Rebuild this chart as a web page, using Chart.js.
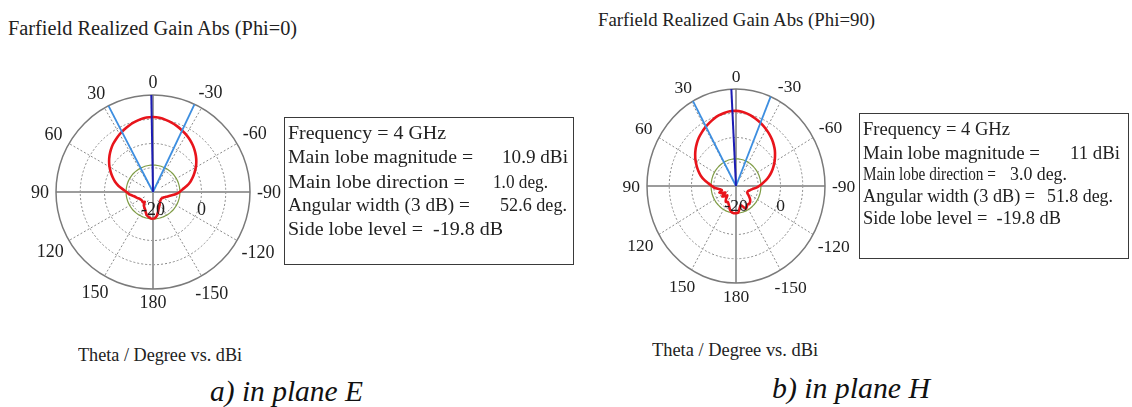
<!DOCTYPE html>
<html>
<head>
<meta charset="utf-8">
<script src="https://cdn.jsdelivr.net/npm/chart.js@4.4.0/dist/chart.umd.min.js"></script>
<style>
  body { margin: 0; width: 1132px; height: 407px; background: #fff; position: relative; overflow: hidden;
         font-family: "Liberation Serif", "Times New Roman", serif; color: #222; }
  .t { position: absolute; white-space: pre; transform-origin: 0 50%; }
  .box { position: absolute; border: 1.5px solid #3a3a3a; box-sizing: border-box; }
  .box .t { left: 3px; }
  canvas { position: absolute; }
</style>
</head>
<body>
<div class="t" data-w="289" style="left:8px;top:16px;font-size:20px;line-height:24px;">Farfield Realized Gain Abs (Phi=0)</div>
<div class="t" data-w="277" style="left:598px;top:9px;font-size:19.5px;line-height:22px;">Farfield Realized Gain Abs (Phi=90)</div>

<canvas id="planeE" width="274" height="274" style="left:16px;top:55px;"></canvas>
<canvas id="planeH" width="258" height="274" style="left:607px;top:49px;"></canvas>

<div class="box" style="left:284px;top:117px;width:290px;height:148px;font-size:19.5px;">
  <div class="t" data-w="158" style="top:3px;line-height:24px;">Frequency = 4 GHz</div>
  <div class="t" data-w="185" style="top:27px;line-height:24px;">Main lobe magnitude =</div>
  <div class="t" data-w="66" style="top:27px;left:217px;line-height:24px;">10.9 dBi</div>
  <div class="t" data-w="177" style="top:52px;line-height:24px;">Main lobe direction =</div>
  <div class="t" data-w="55" style="top:52px;left:208px;line-height:24px;">1.0 deg.</div>
  <div class="t" data-w="182" style="top:75px;line-height:24px;">Angular width (3 dB) =</div>
  <div class="t" data-w="67" style="top:75px;left:215px;line-height:24px;">52.6 deg.</div>
  <div class="t" data-w="215" style="top:99px;line-height:24px;">Side lobe level =  -19.8 dB</div>
</div>

<div class="box" style="left:859px;top:113px;width:270px;height:146px;font-size:19px;">
  <div class="t" data-w="147" style="top:4px;line-height:22px;">Frequency = 4 GHz</div>
  <div class="t" data-w="177" style="top:28px;line-height:22px;">Main lobe magnitude =</div>
  <div class="t" data-w="50" style="top:28px;left:210px;line-height:22px;">11 dBi</div>
  <div class="t" data-w="133" style="top:49px;line-height:22px;">Main lobe direction =</div>
  <div class="t" data-w="57" style="top:49px;left:150px;line-height:22px;">3.0 deg.</div>
  <div class="t" data-w="172" style="top:71px;line-height:22px;">Angular width (3 dB) =</div>
  <div class="t" data-w="66" style="top:71px;left:187px;line-height:22px;">51.8 deg.</div>
  <div class="t" data-w="198" style="top:93px;line-height:22px;">Side lobe level =  -19.8 dB</div>
</div>

<div class="t" data-w="164" style="left:78px;top:344px;font-size:18px;line-height:22px;">Theta / Degree vs. dBi</div>
<div class="t" data-w="166" style="left:652px;top:339px;font-size:18px;line-height:22px;">Theta / Degree vs. dBi</div>
<div class="t" data-w="153" style="left:210px;top:375px;font-size:29px;line-height:32px;font-style:italic;color:#111;">a) in plane E</div>
<div class="t" data-w="158" style="left:772px;top:372px;font-size:29px;line-height:32px;font-style:italic;color:#111;">b) in plane H</div>

<script>
// theta in degrees, positive to the left (CST convention of the plot)
const thetaDeg = [
  -180, -175, -170, -165, -160, -155, -150, -145, -140, -135, -130, -125,
  -120, -115, -110, -105, -100, -95, -90, -85, -80, -75, -70, -65,
  -60, -55, -50, -45, -40, -35, -30, -25, -20, -15, -10, -5,
  0, 5, 10, 15, 20, 25, 30, 35, 40, 45, 50, 55,
  60, 65, 70, 75, 80, 85, 90, 95, 100, 105, 110, 115,
  120, 125, 130, 135, 140, 145, 150, 155, 160, 165, 170, 175, 180
];

// realized gain (dBi), Phi = 0
const gainE = [
  -8.9, -9.3, -10.3, -11.8, -13.0, -13.8, -14.4, -14.9, -15.3, -15.5, -15.6, -15.5,
  -15.3, -14.9, -14.2, -13.4, -12.2, -10.5, -9.0, -7.8, -5.9, -4.1, -2.6, -1.1,
  0.4, 1.8, 3.1, 4.3, 5.4, 6.4, 7.3, 8.1, 8.9, 9.6, 10.2, 10.7,
  10.9, 10.8, 10.4, 9.8, 9.1, 8.3, 7.5, 6.6, 5.7, 4.6, 3.4, 2.1,
  0.7, -0.8, -2.3, -3.8, -5.6, -7.6, -9.1, -10.1, -11.4, -12.4, -13.0, -13.6,
  -14.0, -14.2, -14.2, -14.0, -14.7, -13.4, -12.8, -12.2, -11.2, -10.1, -9.5, -9.1, -8.9
];

// realized gain (dBi), Phi = 90
const gainH = [
  -8.8, -8.9, -10.6, -11.8, -11.0, -9.6, -10.2, -10.8, -10.6, -11.0, -11.8, -13.0,
  -14.1, -14.3, -14.1, -13.4, -12.6, -11.0, -9.6, -8.1, -6.3, -4.6, -3.0, -1.5,
  0.0, 1.4, 2.8, 4.0, 5.1, 6.1, 7.0, 7.9, 8.7, 9.5, 10.2, 10.7,
  10.98, 10.95, 10.6, 10.1, 9.4, 8.6, 7.8, 6.9, 6.0, 4.9, 3.7, 2.4,
  1.0, -0.5, -2.0, -3.6, -5.5, -7.6, -9.2, -10.5, -12.5, -13.5, -12.0, -13.0,
  -14.5, -12.5, -13.5, -14.5, -13.0, -12.0, -12.5, -12.0, -11.0, -9.8, -9.0, -8.7, -8.8
];

// summary values shown in the boxes
const mainLobeE = { mag: 10.9, dir: 1.0, width: 52.6, sll: -19.8 };
const mainLobeH = { mag: 11.0, dir: 3.0, width: 51.8, sll: -19.8 };

// radial axis
const rMin = -20;
const rMax = 20;
const ringValues = [-10, 0, 10];
const ringLabels = [-20, 0];
const angleTicks = [0, 30, 60, 90, 120, 150, 180, -150, -120, -90, -60, -30];
const dottedSpokes = [30, 60, 120, 150, -30, -60, -120, -150];
const solidSpokes = [0, 90, 180, -90];

const SPAN = rMax - rMin;
const rad = d => d * Math.PI / 180;

function toXY(theta, g) {
  const r = Math.max(0, g - rMin);
  return { x: -r * Math.sin(rad(theta)), y: r * Math.cos(rad(theta)) };
}

const polarGrid = {
  id: 'polarGrid',
  beforeDatasetsDraw(chart) {
    const { ctx, scales: { x, y } } = chart;
    const cx = x.getPixelForValue(0), cy = y.getPixelForValue(0);
    const rx = x.getPixelForValue(SPAN) - cx, ry = cy - y.getPixelForValue(SPAN);
    const fx = rx / SPAN, fy = ry / SPAN;
    ctx.save();
    // dotted rings
    ctx.strokeStyle = '#8a8a8a';
    ctx.lineWidth = 1;
    ctx.setLineDash([2, 2]);
    ringValues.forEach(v => {
      const r = v - rMin;
      ctx.beginPath();
      ctx.ellipse(cx, cy, r * fx, r * fy, 0, 0, Math.PI * 2);
      ctx.stroke();
    });
    // dotted spokes
    const r1 = ringValues[0] - rMin;
    dottedSpokes.forEach(a => {
      const s = -Math.sin(rad(a)), c = -Math.cos(rad(a));
      ctx.beginPath();
      ctx.moveTo(cx + s * r1 * fx * 0.4, cy + c * r1 * fy * 0.4);
      ctx.lineTo(cx + s * rx, cy + c * ry);
      ctx.stroke();
    });
    ctx.setLineDash([]);
    // solid axes
    ctx.strokeStyle = '#9c9c9c';
    ctx.lineWidth = 2;
    solidSpokes.forEach(a => {
      const s = -Math.sin(rad(a)), c = -Math.cos(rad(a));
      ctx.beginPath();
      ctx.moveTo(cx, cy);
      ctx.lineTo(cx + s * rx, cy + c * ry);
      ctx.stroke();
    });
    // outer circle
    ctx.strokeStyle = '#7a7a7a';
    ctx.lineWidth = 1.5;
    ctx.beginPath();
    ctx.ellipse(cx, cy, rx, ry, 0, 0, Math.PI * 2);
    ctx.stroke();
    ctx.restore();
  },
  afterDraw(chart, args, opts) {
    const { ctx, scales: { x, y } } = chart;
    const cx = x.getPixelForValue(0), cy = y.getPixelForValue(0);
    const rx = x.getPixelForValue(SPAN) - cx, ry = cy - y.getPixelForValue(SPAN);
    ctx.save();
    ctx.fillStyle = '#1e1e1e';
    ctx.font = opts.font;
    ctx.textAlign = 'center';
    ctx.textBaseline = 'middle';
    angleTicks.forEach(a => {
      const txt = String(a);
      const w = ctx.measureText(txt).width;
      const s = -Math.sin(rad(a)), c = -Math.cos(rad(a));
      const d = 7 + Math.abs(s) * w / 2 + Math.abs(c) * 6;
      ctx.fillText(txt, cx + s * (rx + d), cy + c * (ry + d) + 1);
    });
    ringLabels.forEach(v => {
      const r = (v - rMin) / SPAN;
      ctx.fillText(String(v), cx + r * rx, cy + opts.ringDy);
    });
    ctx.restore();
  }
};

function makeChart(id, gain, lobe, labelFont, ringDy) {
  const pattern = thetaDeg.map((t, i) => toXY(t, gain[i]));
  const sllCircle = thetaDeg.map(t => toXY(t, lobe.mag + lobe.sll));
  const ray = a => [toXY(a, rMin), toXY(a, rMax)];

  new Chart(document.getElementById(id), {
    type: 'scatter',
    data: {
      datasets: [
        {
          data: ray(lobe.dir),
          showLine: true,
          borderColor: '#1c1cb4',
          borderWidth: 2,
          pointRadius: 0
        },
        {
          data: ray(lobe.dir + lobe.width / 2),
          showLine: true,
          borderColor: '#3d8ee0',
          borderWidth: 1.8,
          pointRadius: 0
        },
        {
          data: ray(lobe.dir - lobe.width / 2),
          showLine: true,
          borderColor: '#3d8ee0',
          borderWidth: 1.8,
          pointRadius: 0
        },
        {
          data: pattern,
          showLine: true,
          borderColor: '#e8141b',
          borderWidth: 2.6,
          tension: 0.25,
          pointRadius: 0
        },
        {
          data: sllCircle,
          showLine: true,
          borderColor: '#7f9c46',
          borderWidth: 1.2,
          tension: 0.3,
          pointRadius: 0
        }
      ]
    },
    options: {
      responsive: false,
      animation: false,
      layout: { padding: 40 },
      plugins: {
        legend: { display: false },
        tooltip: { enabled: false },
        polarGrid: { font: labelFont, ringDy: ringDy }
      },
      scales: {
        x: { type: 'linear', min: -SPAN, max: SPAN, display: false },
        y: { type: 'linear', min: -SPAN, max: SPAN, display: false }
      }
    },
    plugins: [polarGrid]
  });
}

makeChart('planeE', gainE, mainLobeE, '18px "Liberation Serif"', 18);
makeChart('planeH', gainH, mainLobeH, '17.5px "Liberation Serif"', 20);

// squeeze each text run to the width it takes in the picture
document.querySelectorAll('[data-w]').forEach(el => {
  const w = el.getBoundingClientRect().width;
  el.style.transform = 'scaleX(' + (Number(el.dataset.w) / w).toFixed(3) + ')';
});
</script>
</body>
</html>
